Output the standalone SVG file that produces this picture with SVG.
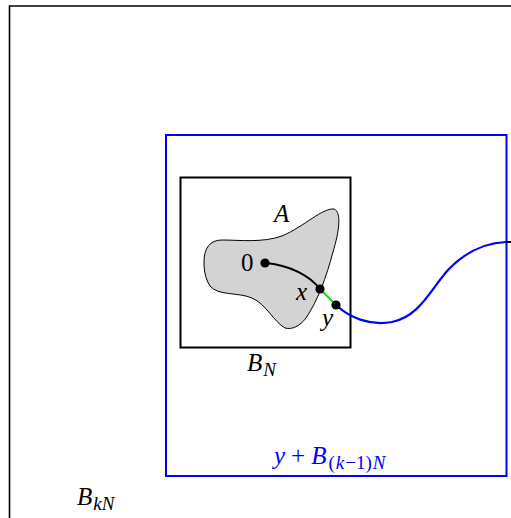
<svg xmlns="http://www.w3.org/2000/svg" width="511" height="518" viewBox="0 0 511 518">
<style>
.lbl{font-family:"Liberation Serif","DejaVu Serif",serif;font-style:italic;font-size:25px;fill:#000}
.sub{font-size:19px}
.up{font-style:normal}
.blue{fill:#0000ff}
.dot{fill:#000}
</style>
<rect width="511" height="518" fill="#fff"/>
<g id="BkN">
<path d="M9.5,518 V6 H511" fill="none" stroke="#000" stroke-width="1.6"/>
<text class="lbl" x="77" y="505">B<tspan class="sub" dy="5" dx="1">kN</tspan></text>
</g>
<g id="blueBox">
<rect x="166" y="135" width="340.5" height="341" fill="none" stroke="#0000ff" stroke-width="2"/>
<text class="lbl blue" x="274" y="464">y<tspan class="up" dx="6">+</tspan><tspan dx="6">B</tspan><tspan class="sub up" dy="5" dx="2">(</tspan><tspan class="sub" dx="1">k</tspan><tspan class="sub up" dx="1">−1)</tspan><tspan class="sub" dx="1">N</tspan></text>
</g>
<g id="BN">
<rect x="180.5" y="177.5" width="170" height="170" fill="none" stroke="#000" stroke-width="2"/>
<text class="lbl" x="247" y="371">B<tspan class="sub" dy="5" dx="1">N</tspan></text>
</g>
<g id="A">
<path d="M204,262 C204,248 210,240 222,240 C240,240 262,243 282,236 C305,226 322,208 334,209 C342,212 339,232 333,252 C326,278 318,300 306,318 C300,326 292,330 285,328 C274,322 266,304 252,298 C238,292 218,296 210,286 C205,278 204,270 204,262 Z" fill="#d3d3d3" stroke="#000" stroke-width="1"/>
<text class="lbl" x="274" y="222">A</text>
</g>
<g id="connectors">
<path d="M265,263 C290,265 310,276 320,289" fill="none" stroke="#000" stroke-width="2"/>
<path d="M320,289 L336,305" fill="none" stroke="#22cc22" stroke-width="2"/>
<path d="M336,305 C350,318 370,326 392,322 C420,316 430,290 448,270 C465,252 485,243 506,242" fill="none" stroke="#0000ff" stroke-width="2.2"/>
<path d="M506,242 L511,242" fill="none" stroke="#000" stroke-width="2"/>
</g>
<g id="p0">
<circle class="dot" cx="265" cy="263" r="4.6"/>
<text class="lbl up" x="241" y="271">0</text>
</g>
<g id="px">
<circle class="dot" cx="320" cy="289" r="4.6"/>
<text class="lbl" x="296" y="300">x</text>
</g>
<g id="py">
<circle class="dot" cx="336" cy="305" r="4.6"/>
<text class="lbl" x="322" y="326">y</text>
</g>
</svg>
